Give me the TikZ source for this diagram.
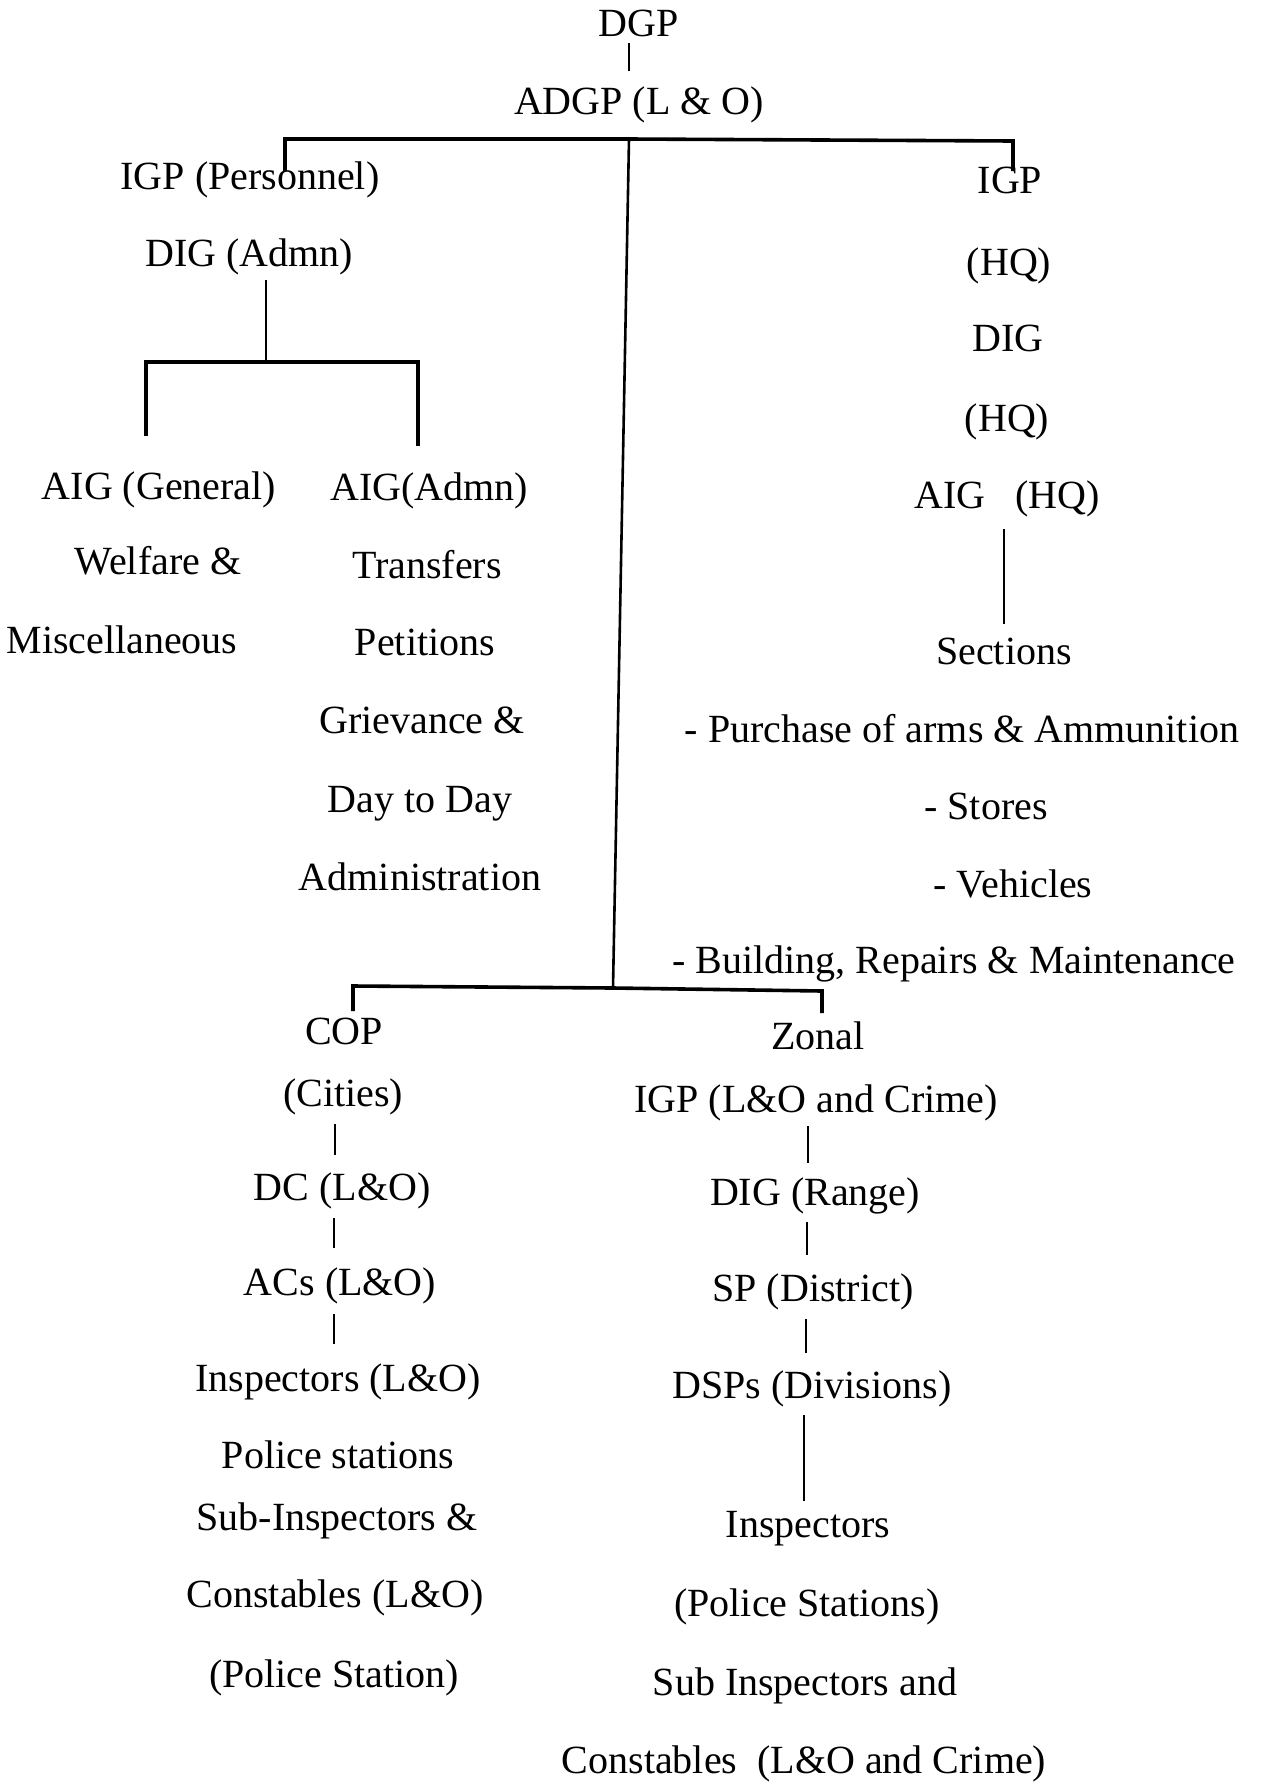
\documentclass[tikz,border=0pt]{standalone}
\usepackage{fontspec}
\setmainfont{Liberation Serif}
\begin{document}
\begin{tikzpicture}[x=1pt,y=-1pt,
  lbl/.style={inner sep=0pt, text height=30pt, text depth=4pt,
              font=\fontsize{40}{48}\selectfont},
  link/.style={line width=2.6pt},
  bar/.style={line width=3.6pt, line join=miter}]
\useasboundingbox[fill=white] (0,0) rectangle (1264,1786);

% ---- top of the hierarchy
\node[lbl] (dgp)  at (639,23)  {DGP};
\node[lbl] (adgp) at (639,101) {ADGP (L \& O)};

% ---- personnel branch
\node[lbl] (igpper) at (250,176) {IGP (Personnel)};
\node[lbl] (digadm) at (249,253) {DIG (Admn)};
\node[lbl] (aiggen) at (159,486) {AIG (General)};
\node[lbl] (aigadm) at (429,487) {AIG(Admn)};
\node[lbl] (welf)   at (158,561) {Welfare \&};
\node[lbl] (misc)   at (122,640) {Miscellaneous};
\node[lbl] (trans)  at (427,565) {Transfers};
\node[lbl] (petit)  at (425,642) {Petitions};
\node[lbl] (griev)  at (422,720) {Grievance \&};
\node[lbl] (daytd)  at (420,799) {Day to Day};
\node[lbl] (admin)  at (420,877) {Administration};

% ---- headquarters branch
\node[lbl] (igphq)  at (1010,180) {IGP};
\node[lbl] (hqa)    at (1009,262) {(HQ)};
\node[lbl] (dighq)  at (1008,338) {DIG};
\node[lbl] (hqb)    at (1007,418) {(HQ)};
\node[lbl] (aighq)  at (1007,495) {AIG\ \ \ (HQ)};
\node[lbl] (sect)   at (1004,651) {Sections};
\node[lbl] (purch)  at (962,729)  {- Purchase of arms \& Ammunition};
\node[lbl] (stores) at (986,806)  {- Stores};
\node[lbl] (vehic)  at (1013,884) {- Vehicles};
\node[lbl] (build)  at (954,960)  {- Building, Repairs \& Maintenance};

% ---- city police
\node[lbl] (cop)    at (344,1031) {COP};
\node[lbl] (cities) at (343,1093) {(Cities)};
\node[lbl] (dc)     at (342,1187) {DC (L\&O)};
\node[lbl] (acs)    at (340,1282) {ACs (L\&O)};
\node[lbl] (inspc)  at (338,1378) {Inspectors (L\&O)};
\node[lbl] (psc)    at (338,1455) {Police stations};
\node[lbl] (subc)   at (337,1517) {Sub-Inspectors \&};
\node[lbl] (conc)   at (335,1594) {Constables (L\&O)};
\node[lbl] (psta)   at (334,1674) {(Police Station)};

% ---- zonal police
\node[lbl] (zonal)  at (818,1036) {Zonal};
\node[lbl] (igpz)   at (816,1099) {IGP (L\&O and Crime)};
\node[lbl] (digr)   at (815,1192) {DIG (Range)};
\node[lbl] (spd)    at (813,1288) {SP (District)};
\node[lbl] (dsp)    at (812,1385) {DSPs (Divisions)};
\node[lbl] (inspz)  at (808,1524) {Inspectors};
\node[lbl] (pssz)   at (807,1603) {(Police Stations)};
\node[lbl] (subz)   at (805,1682) {Sub Inspectors and};
\node[lbl] (conz)   at (804,1760) {Constables\ \ (L\&O and Crime)};

% ---- junction points
\coordinate (a1) at (629,43);   \coordinate (a2) at (629,71);
\coordinate (tl) at (285,139);  \coordinate (tm) at (629,139);
\coordinate (tr) at (1013,141);
\coordinate (tld) at (285,171); \coordinate (trd) at (1013,171);
\coordinate (bm) at (613,988);
\coordinate (bl) at (353,986);  \coordinate (br) at (822,991);
\coordinate (bld) at (353,1011);\coordinate (brd) at (822,1013);
\coordinate (p1) at (266,280);  \coordinate (p2) at (266,362);
\coordinate (pl) at (146,362);  \coordinate (pr) at (418,362);
\coordinate (pld) at (146,436); \coordinate (prd) at (418,446);
\coordinate (h1) at (1004,529); \coordinate (h2) at (1004,624);

% ---- connectors
\draw[link] (a1) -- (a2);
\draw[bar] (tld) -- (tl) -- (tm) -- (tr) -- (trd);
\draw[link] (tm) -- (bm);
\draw[bar] (bld) -- (bl) -- (bm) -- (br) -- (brd);

\draw[link] (p1) -- (p2);
\draw[bar] (pld) -- (pl) -- (pr) -- (prd);
\draw[link] (h1) -- (h2);

\coordinate (c1) at (335,1124); \coordinate (c2) at (335,1155);
\coordinate (c3) at (334,1218); \coordinate (c4) at (334,1248);
\coordinate (c5) at (334,1314); \coordinate (c6) at (334,1344);
\draw[link] (c1) -- (c2);
\draw[link] (c3) -- (c4);
\draw[link] (c5) -- (c6);

\coordinate (z1) at (808,1126); \coordinate (z2) at (808,1163);
\coordinate (z3) at (807,1222); \coordinate (z4) at (807,1255);
\coordinate (z5) at (806,1319); \coordinate (z6) at (806,1353);
\coordinate (z7) at (804,1415); \coordinate (z8) at (804,1501);
\draw[link] (z1) -- (z2);
\draw[link] (z3) -- (z4);
\draw[link] (z5) -- (z6);
\draw[link] (z7) -- (z8);
\end{tikzpicture}
\end{document}
